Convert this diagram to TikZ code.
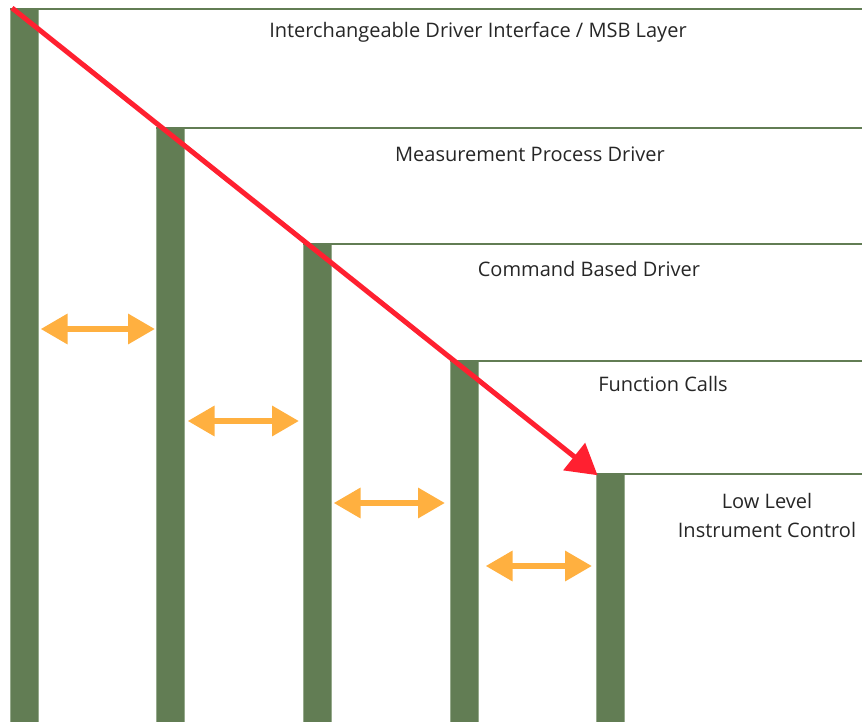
\documentclass[tikz,border=0pt]{standalone}
\usepackage{fontspec}
\setmainfont{Open Sans}
\usetikzlibrary{arrows.meta}
\definecolor{bargreen}{RGB}{98,125,84}
\definecolor{baredge}{RGB}{150,170,140}
\definecolor{flowred}{RGB}{255,32,48}
\definecolor{linkorange}{RGB}{255,176,64}
\definecolor{labelgray}{RGB}{38,38,38}
\tikzset{
  bar/.style={fill=bargreen, draw=baredge, line width=0.6pt, minimum width=28pt, inner sep=0pt, anchor=north west},
  layerline/.style={draw=bargreen, line width=1.4pt},
  flow/.style={draw=flowred, line width=5pt, -{Triangle[length=30pt,width=34pt]}, shorten >=-2pt},
  link/.style={draw=linkorange, line width=6.5pt, {Triangle[length=27pt,width=29pt]}-{Triangle[length=27pt,width=29pt]}},
  layertext/.style={font=\fontsize{20}{29}\selectfont, text=labelgray, align=center, inner sep=0pt}
}
\begin{document}
\begin{tikzpicture}[x=1pt,y=-1pt]
\useasboundingbox (0,0) rectangle (862,722);
\coordinate (edge) at (862,0);

% layer bars, stepping down to the right
\node[bar, minimum height=713pt] (b1) at (10,9) {};
\node[bar, minimum height=594pt] (b2) at (156,128) {};
\node[bar, minimum height=478pt] (b3) at (303,244) {};
\node[bar, minimum height=361pt] (b4) at (450,361) {};
\node[bar, minimum height=248pt] (b5) at (596,474) {};

% top edge of each layer
\foreach \b in {b1,b2,b3,b4,b5}
  \draw[layerline] (\b.north west) -- (\b.north west -| edge);

% layer names
\node[layertext] (t1) at (478,32) {Interchangeable Driver Interface / MSB Layer};
\node[layertext] (t2) at (530,154) {Measurement Process Driver};
\node[layertext] (t3) at (589,269) {Command Based Driver};
\node[layertext] (t4) at (663,384) {Function Calls};
\node[layertext] (t5) at (767,515) {Low Level\\Instrument Control};

% links between neighbouring layers
\coordinate (y1) at (0,329);
\coordinate (y2) at (0,421);
\coordinate (y3) at (0,503);
\coordinate (y4) at (0,566);
\draw[link] ([xshift=2pt]b1.east |- y1) -- ([xshift=-1pt]b2.west |- y1);
\draw[link] ([xshift=3pt]b2.east |- y2) -- ([xshift=-4pt]b3.west |- y2);
\draw[link] ([xshift=2pt]b3.east |- y3) -- ([xshift=-5pt]b4.west |- y3);
\draw[link] ([xshift=7pt]b4.east |- y4) -- ([xshift=-4pt]b5.west |- y4);

% call path through the layers
\draw[flow] ([shift={(2pt,1pt)}]b1.north west) -- (b5.north west);
\end{tikzpicture}
\end{document}
